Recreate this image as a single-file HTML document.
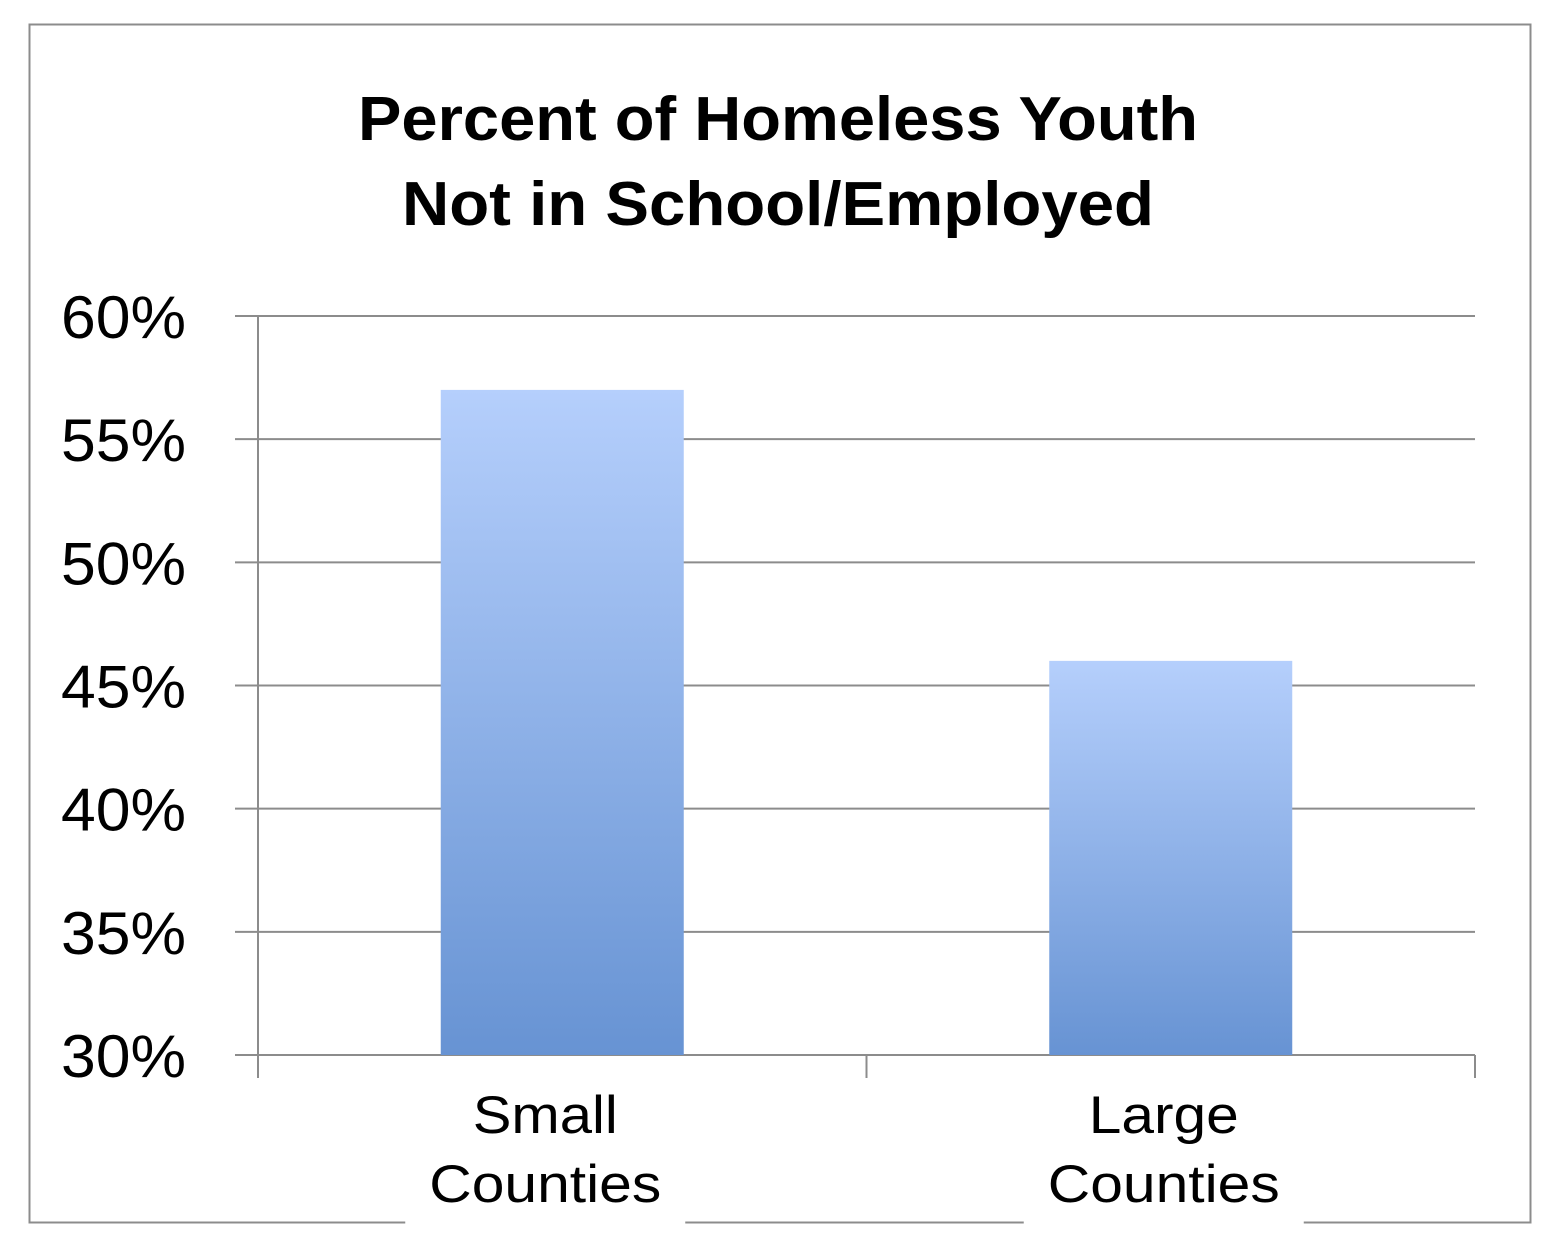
<!DOCTYPE html>
<html><head><meta charset="utf-8"><style>
html,body{margin:0;padding:0;background:#fff;}
svg{display:block;}
</style></head><body>
<svg width="1557" height="1243" viewBox="0 0 1557 1243" xmlns="http://www.w3.org/2000/svg">
<defs>
<linearGradient id="bg" x1="0" y1="0" x2="0" y2="1">
<stop offset="0" stop-color="#b5cffc"/><stop offset="1" stop-color="#6793d3"/>
</linearGradient>
</defs>
<rect x="29.5" y="24.5" width="1501" height="1198" fill="#fff" stroke="#8c8c8c" stroke-width="2"/>
<text x="778" y="140" text-anchor="middle" font-family="'Liberation Sans',sans-serif" font-weight="bold" font-size="62" textLength="840" lengthAdjust="spacingAndGlyphs">Percent of Homeless Youth</text>
<text x="778" y="225" text-anchor="middle" font-family="'Liberation Sans',sans-serif" font-weight="bold" font-size="62" textLength="752" lengthAdjust="spacingAndGlyphs">Not in School/Employed</text>
<g id="grid"></g>
<g id="bars"></g>
<g id="axes"></g>
</svg>
<script>
const categories = ["Small|Counties", "Large|Counties"];
const values = [57, 46];
const yTicks = [30, 35, 40, 45, 50, 55, 60];
const yTickLabels = ["30%", "35%", "40%", "45%", "50%", "55%", "60%"];

const NS = "http://www.w3.org/2000/svg";
const x0 = 258, x1 = 1475, yTop = 316, yBot = 1055, vMin = 30, vMax = 60;
const y = v => yBot - (v - vMin) / (vMax - vMin) * (yBot - yTop);
const band = (x1 - x0) / categories.length;
const xc = i => x0 + band * (i + 0.5);
function mk(tag, attrs, parent) {
  const e = document.createElementNS(NS, tag);
  for (const k in attrs) e.setAttribute(k, attrs[k]);
  parent.appendChild(e);
  return e;
}
const grid = document.getElementById("grid"), bars = document.getElementById("bars"), axes = document.getElementById("axes");
yTicks.forEach((t, i) => {
  const l = mk("line", {x1: 235, x2: x1, y1: y(t), y2: y(t), stroke: "#8c8c8c", "stroke-width": 2}, grid);
  
  
  const tx = mk("text", {x: 186, y: y(t) + 22, "text-anchor": "end", "font-family": "'Liberation Sans',sans-serif", "font-size": 60, textLength: 125, lengthAdjust: "spacingAndGlyphs"}, axes);
  tx.textContent = yTickLabels[i];
  
  
});
const labelLens = [[145, 232], [150, 232]];
categories.forEach((c, i) => {
  const w = 243;
  const r = mk("rect", {x: xc(i) - w / 2, y: y(values[i]), width: w, height: yBot - y(values[i]), fill: "url(#bg)"}, bars);
  
  
  const parts = c.split("|");
  const cx = xc(i) - 17 + i * 10;
  const bgr = mk("rect", {x: cx - 140, y: 1150, width: 280, height: 75, fill: "#fff"}, axes);
  
  
  parts.forEach((p, j) => {
    const t = mk("text", {x: cx, y: 1133 + j * 69, "text-anchor": "middle", "font-family": "'Liberation Sans',sans-serif", "font-size": 53, textLength: labelLens[i][j], lengthAdjust: "spacingAndGlyphs"}, axes);
    t.textContent = p;
    
    
  });
});
const ya = mk("line", {x1: x0, x2: x0, y1: yTop, y2: 1078, stroke: "#8c8c8c", "stroke-width": 2}, axes);


for (let i = 0; i <= categories.length; i++) {
  const tk = mk("line", {x1: x0 + band * i, x2: x0 + band * i, y1: yBot, y2: 1078, stroke: "#8c8c8c", "stroke-width": 2}, axes);
  
  
}
</script>
</body></html>
